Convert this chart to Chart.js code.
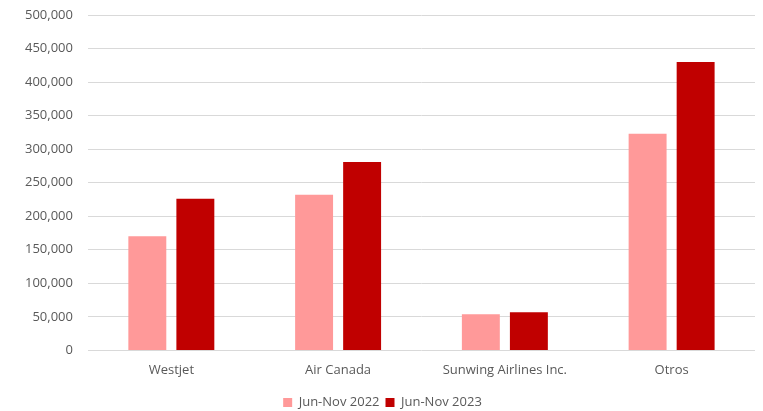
<!DOCTYPE html>
<html>
<head>
<meta charset="utf-8">
<script src="https://cdn.jsdelivr.net/npm/chart.js@4"></script>
<style>
  html, body { margin: 0; padding: 0; background: #fff; }
</style>
</head>
<body>
<canvas id="chart" width="763" height="411"></canvas>
<script>
const categories = ["Westjet", "Air Canada", "Sunwing Airlines Inc.", "Otros"];
const values2022 = [170000, 232000, 54000, 323000];
const values2023 = [226000, 281000, 57000, 430000];
const seriesLabels = ["Jun-Nov 2022", "Jun-Nov 2023"];

const textColor = "#595959";
const fontFamily = "'Open Sans', 'Noto Sans', sans-serif";

const ctx = document.getElementById("chart").getContext("2d");
new Chart(ctx, {
  type: "bar",
  data: {
    labels: categories,
    datasets: [
      {
        label: seriesLabels[0],
        data: values2022,
        backgroundColor: "#ff9999",
        categoryPercentage: 0.576,
        barPercentage: 0.79,
      },
      {
        label: seriesLabels[1],
        data: values2023,
        backgroundColor: "#c00000",
        categoryPercentage: 0.576,
        barPercentage: 0.79,
      },
    ],
  },
  options: {
    responsive: false,
    animation: false,
    layout: {
      padding: { top: 15, right: 8, left: 10, bottom: -8 },
    },
    plugins: {
      legend: {
        position: "bottom",
        labels: {
          color: textColor,
          boxWidth: 9,
          boxHeight: 9,
          padding: 6,
          font: { family: fontFamily, size: 13 },
        },
      },
      tooltip: { enabled: false },
    },
    scales: {
      x: {
        grid: { display: false },
        border: { display: false },
        ticks: {
          color: textColor,
          font: { family: fontFamily, size: 13 },
          padding: 4,
        },
        afterFit: (scale) => { scale.height += 8; },
      },
      y: {
        min: 0,
        max: 500000,
        border: { display: false },
        grid: { color: "#d9d9d9", lineWidth: 1, drawTicks: false },
        ticks: {
          stepSize: 50000,
          color: textColor,
          padding: 15,
          font: { family: fontFamily, size: 13 },
          callback: (v) => v.toLocaleString("en-US"),
        },
        afterFit: (scale) => { scale.paddingTop = 0; scale.paddingBottom = 0; },
      },
    },
  },
});
</script>
</body>
</html>
